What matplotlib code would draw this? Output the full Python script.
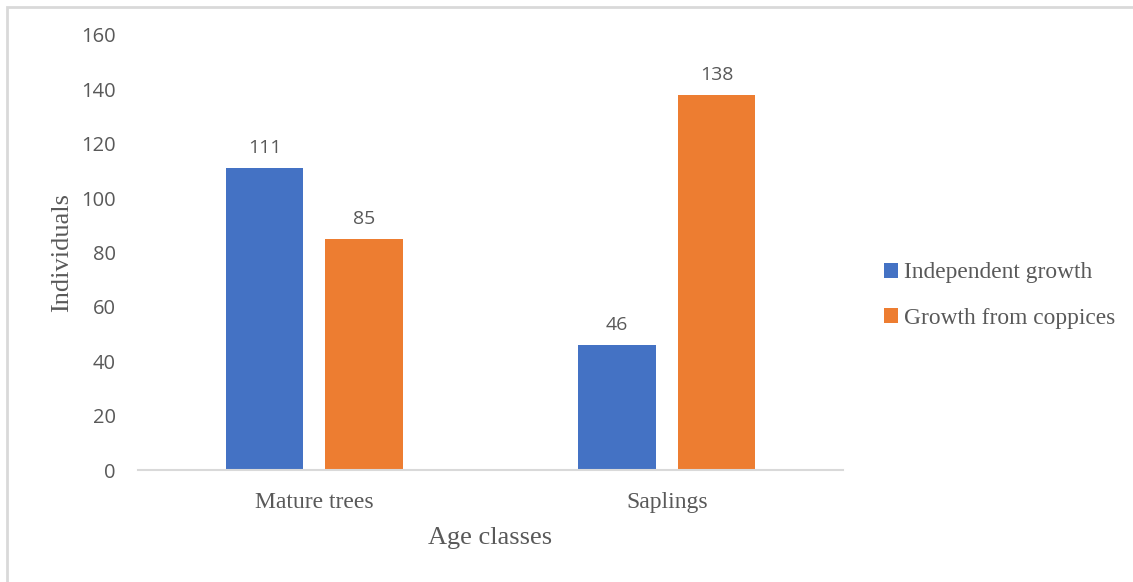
import numpy as np
import matplotlib.pyplot as plt
from matplotlib.patches import Rectangle

categories = ["Mature trees", "Saplings"]
independent = [111, 46]
coppices = [85, 138]
series_names = ["Independent growth", "Growth from coppices"]
yticks = [0, 20, 40, 60, 80, 100, 120, 140, 160]

blue = "#4472C4"
orange = "#ED7D31"
text_grey = "#595959"
serif = ["Liberation Serif", "DejaVu Serif"]
sans = ["Open Sans", "DejaVu Sans"]

fig = plt.figure(figsize=(11.33, 5.82), dpi=100)
ax = fig.add_axes([0.1218, 0.1924, 0.6222, 0.7475])

# light frame around the chart area
fig.patches.append(Rectangle((7 / 1133, -0.05), 1.2, 1 - 7 / 582 + 0.05,
                             transform=fig.transFigure, fill=False,
                             edgecolor="#D9D9D9", linewidth=2))

x = np.arange(len(categories))
w = 0.22
off = 0.141
b1 = ax.bar(x - off, independent, w, color=blue, label=series_names[0])
b2 = ax.bar(x + off, coppices, w, color=orange, label=series_names[1])

for bars, vals in ((b1, independent), (b2, coppices)):
    for rect, v in zip(bars, vals):
        ax.text(rect.get_x() + rect.get_width() / 2, v + 4, str(v),
                ha="center", va="bottom", fontsize=14, color=text_grey,
                family=sans)

ax.set_xlim(-0.5, 1.5)
ax.set_ylim(0, 160)
ax.set_yticks(yticks)
ax.set_yticklabels([str(t) for t in yticks], family=sans, fontsize=14.5,
                   color=text_grey)
ax.set_xticks(x)
ax.set_xticklabels(categories, family=serif, fontsize=17, color=text_grey)
ax.tick_params(axis="both", length=0)
ax.tick_params(axis="y", pad=16)
ax.tick_params(axis="x", pad=16)

for s in ["top", "right", "left"]:
    ax.spines[s].set_visible(False)
ax.spines["bottom"].set_color("#D9D9D9")
ax.spines["bottom"].set_linewidth(1.5)

ax.set_xlabel("Age classes", family=serif, fontsize=19, color=text_grey,
              labelpad=10)
ax.set_ylabel("Individuals", family=serif, fontsize=19, color=text_grey,
              labelpad=6)

leg = fig.legend(loc="center left", bbox_to_anchor=(0.762, 0.492),
                 frameon=False, handlelength=0.6, handleheight=0.6,
                 handletextpad=0.25, labelspacing=1.05,
                 prop={"family": serif, "size": 16.8})
for t in leg.get_texts():
    t.set_color(text_grey)

fig.savefig("out.png", dpi=100)
